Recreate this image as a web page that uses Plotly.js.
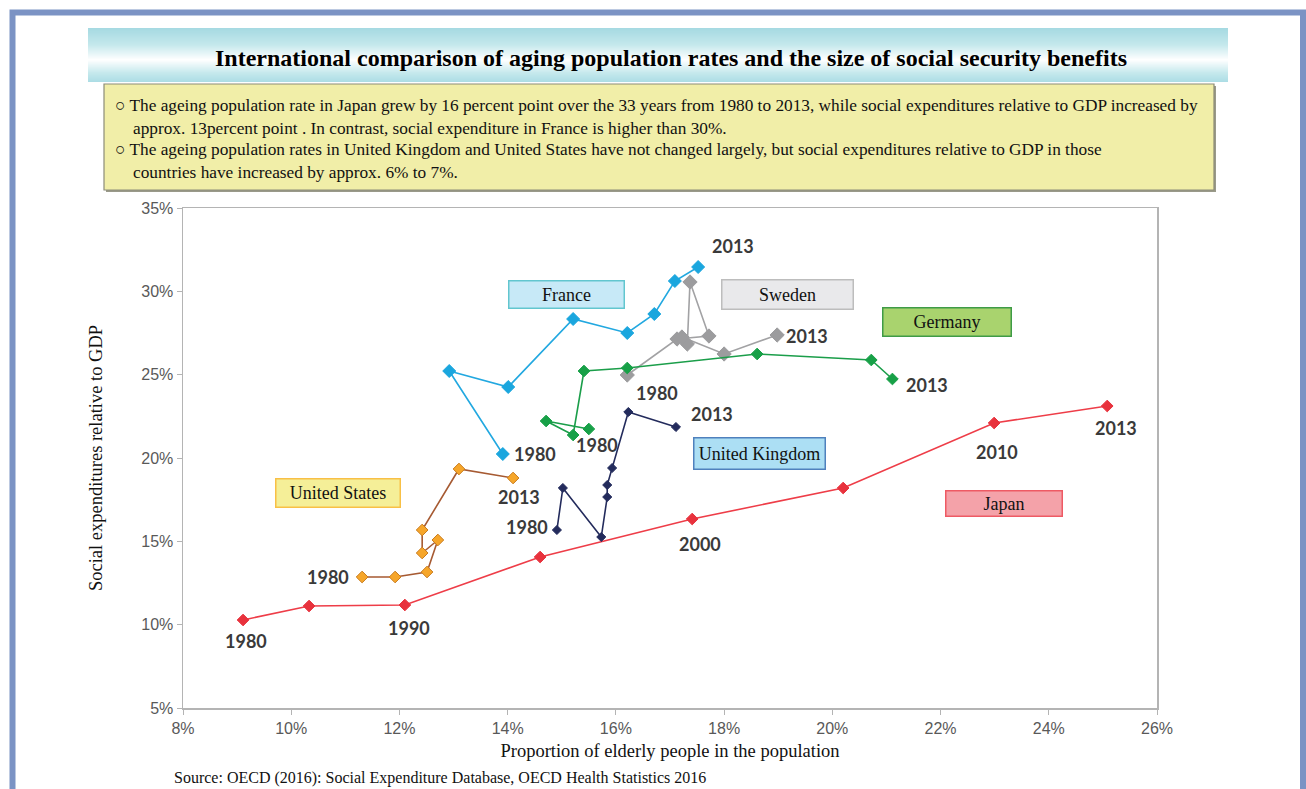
<!DOCTYPE html>
<html><head><meta charset="utf-8">
<script src="https://cdn.plot.ly/plotly-3.0.1.min.js"></script>
<style>html,body{margin:0;padding:0;background:#fff;overflow:hidden;} #chart{width:1306px;height:789px;}</style>
</head><body><div id="chart"></div>
<script>
// ---------------- DATA ----------------
const years = [1980, 1985, 1990, 1995, 2000, 2005, 2010, 2013];

const japanElderly  = [9.11, 10.33, 12.10, 14.60, 17.41, 20.20, 22.99, 25.08];
const japanSocial   = [10.28, 11.12, 11.18, 14.06, 16.34, 18.20, 22.10, 23.12];

const usElderly     = [11.31, 11.92, 12.51, 12.71, 12.42, 12.42, 13.10, 14.10];
const usSocial      = [12.86, 12.86, 13.16, 15.08, 14.30, 15.68, 19.34, 18.80];

const ukElderly     = [14.91, 15.02, 15.73, 15.84, 15.84, 15.93, 16.23, 17.11];
const ukSocial      = [15.68, 18.20, 15.26, 17.66, 18.38, 19.40, 22.76, 21.86];

const franceElderly = [13.91, 12.92, 14.01, 15.21, 16.21, 16.71, 17.09, 17.52];
const franceSocial  = [20.24, 25.22, 24.26, 28.34, 27.50, 28.64, 30.62, 31.46];

const swedenElderly = [16.21, 17.13, 17.72, 17.37, 17.32, 17.22, 18.00, 18.98];
const swedenSocial  = [24.98, 27.14, 27.32, 30.56, 26.84, 27.26, 26.24, 27.38];

const germanyElderly = [15.50, 14.71, 15.21, 15.41, 16.21, 18.61, 20.72, 21.11];
const germanySocial  = [21.74, 22.22, 21.38, 25.22, 25.40, 26.24, 25.88, 24.74];

const countryNames = ['Japan', 'United States', 'United Kingdom', 'France', 'Sweden', 'Germany'];
const japanLabeledYears = [1980, 1990, 2000, 2010, 2013];
const otherLabeledYears = [1980, 2013];

const xTickVals = [8, 10, 12, 14, 16, 18, 20, 22, 24, 26];
const yTickVals = [5, 10, 15, 20, 25, 30, 35];

const titleText = 'International comparison of aging population rates and the size of social security benefits';
const bodyLines = [
  '○ The ageing population rate in Japan grew by 16 percent point over the 33 years from 1980 to 2013, while social expenditures relative to GDP increased by',
  'approx. 13percent point . In contrast, social expenditure in France is higher than 30%.',
  '○ The ageing population rates in United Kingdom and United States have not changed largely, but social expenditures relative to GDP in those',
  'countries have increased by approx. 6% to 7%.'
];
const xAxisTitle = 'Proportion of elderly people in the population';
const yAxisTitle = 'Social expenditures relative to GDP';
const sourceText = 'Source: OECD (2016): Social Expenditure Database, OECD Health Statistics 2016';

// ---------------- STYLE ----------------
const W = 1306, H = 789;
const M = {l: 183, r: 149, t: 208, b: 81};
const PW = W - M.l - M.r, PH = H - M.t - M.b;
const px = x => (x - M.l) / PW;           // pixel -> paper x
const py = y => (H - M.b - y) / PH;       // pixel -> paper y

const serif = 'Liberation Serif, Times New Roman, serif';
const sans = 'Liberation Sans, Arial, sans-serif';

const countries = [
  {name: 'Japan', x: japanElderly, y: japanSocial, labels: japanLabeledYears,
   line: '#ee3d48', marker: '#e8323d', mline: '#e8323d', size: 9,
   offsets: {1980: [3, 21], 1990: [4, 23], 2000: [8, 25], 2010: [3, 29], 2013: [9, 22]},
   box: {x: 23.17, y: 17.30, w: 119, h: 28, fill: '#f4a2a9', border: '#ee5a64'}},
  {name: 'United States', x: usElderly, y: usSocial, labels: otherLabeledYears,
   line: '#a65a32', marker: '#f6a62a', mline: '#c97c1e', size: 9,
   offsets: {1980: [-34, 0], 2013: [6, 19]},
   box: {x: 10.87, y: 17.93, w: 127, h: 31, fill: '#f5ef98', border: '#f8c046'}},
  {name: 'United Kingdom', x: ukElderly, y: ukSocial, labels: otherLabeledYears,
   line: '#232b5c', marker: '#232b5c', mline: '#232b5c', size: 7,
   offsets: {1980: [-30, -3], 2013: [36, -13]},
   box: {x: 18.65, y: 20.30, w: 134, h: 34, fill: '#acdff4', border: '#4f81bd'}},
  {name: 'France', x: franceElderly, y: franceSocial, labels: otherLabeledYears,
   line: '#22a8e0', marker: '#1aa6de', mline: '#1aa6de', size: 10,
   offsets: {1980: [32, 0], 2013: [35, -21]},
   box: {x: 15.08, y: 29.84, w: 118, h: 30, fill: '#c7e9f7', border: '#62c6cf'}},
  {name: 'Sweden', x: swedenElderly, y: swedenSocial, labels: otherLabeledYears,
   line: '#a2a2a4', marker: '#9c9c9e', mline: '#9c9c9e', size: 11,
   offsets: {1980: [30, 18], 2013: [30, 1]},
   box: {x: 19.18, y: 29.84, w: 134, h: 32, fill: '#e9e9eb', border: '#bdbdbd'}},
  {name: 'Germany', x: germanyElderly, y: germanySocial, labels: otherLabeledYears,
   line: '#1b9e4a', marker: '#17a047', mline: '#17a047', size: 9,
   offsets: {1980: [8, 16], 2013: [35, 6]},
   box: {x: 22.11, y: 28.19, w: 131, h: 31, fill: '#a9d36e', border: '#3f9b46'}}
];

// ---------------- TRACES ----------------
const traces = countries.map(c => ({
  type: 'scatter', mode: 'lines+markers', name: c.name,
  x: c.x, y: c.y,
  line: {color: c.line, width: 1.6},
  marker: {symbol: 'diamond', size: c.size, color: c.marker, line: {color: c.mline, width: 1}},
  hoverinfo: 'skip', showlegend: false
}));

// ---------------- ANNOTATIONS ----------------
const annotations = [];
countries.forEach(c => {
  c.labels.forEach(yr => {
    const i = years.indexOf(yr);
    const off = c.offsets[yr];
    annotations.push({
      x: c.x[i], y: c.y[i], xref: 'x', yref: 'y', showarrow: false,
      xshift: off[0], yshift: -off[1],
      text: '<b>' + yr + '</b>',
      font: {family: 'Lato, Carlito, sans-serif', size: 18, color: '#3a3a3a'}
    });
  });
  const b = c.box;
  annotations.push({
    x: b.x, y: b.y, xref: 'x', yref: 'y', showarrow: false,
    text: c.name, width: b.w - 4, height: b.h - 4,
    bgcolor: b.fill, bordercolor: b.border, borderwidth: 1.5, borderpad: 0,
    font: {family: serif, size: 18, color: '#111'}, valign: 'middle'
  });
});

// title
annotations.push({x: px(671), y: py(58), xref: 'paper', yref: 'paper', xanchor: 'center', yanchor: 'middle',
  showarrow: false, text: '<b>' + titleText + '</b>', font: {family: serif, size: 24, color: '#000'}});
// body text
const bodyPos = [[113, 105], [131, 128], [113, 150], [131, 173]];
bodyLines.forEach((t, i) => {
  annotations.push({x: px(bodyPos[i][0]), y: py(bodyPos[i][1]), xref: 'paper', yref: 'paper',
    xanchor: 'left', yanchor: 'middle', showarrow: false, text: t,
    font: {family: serif, size: 17.3, color: '#111'}});
});
// source
annotations.push({x: px(172), y: py(778), xref: 'paper', yref: 'paper', xanchor: 'left', yanchor: 'middle',
  showarrow: false, text: sourceText, font: {family: serif, size: 16, color: '#111'}});

// ---------------- SHAPES ----------------
const shapes = [];
// banner gradient (cyan -> white -> cyan)
const stops = [[0, [166, 218, 226]], [0.3, [196, 232, 236]], [0.58, [255, 255, 255]], [0.82, [198, 233, 237]], [1, [170, 220, 228]]];
function grad(t) {
  for (let k = 0; k < stops.length - 1; k++) {
    const [t0, c0] = stops[k], [t1, c1] = stops[k + 1];
    if (t >= t0 && t <= t1) {
      const f = (t - t0) / (t1 - t0);
      return 'rgb(' + c0.map((v, j) => Math.round(v + (c1[j] - v) * f)).join(',') + ')';
    }
  }
  return 'rgb(170,220,228)';
}
const bTop = 28, bBot = 82;
for (let yy = bTop; yy < bBot; yy++) {
  shapes.push({type: 'rect', xref: 'paper', yref: 'paper', x0: px(88), x1: px(1228),
    y0: py(yy), y1: py(yy + 1.05), fillcolor: grad((yy - bTop) / (bBot - bTop)), line: {width: 0}, layer: 'below'});
}
// yellow box with shadow
shapes.push({type: 'rect', xref: 'paper', yref: 'paper', x0: px(106), x1: px(1216), y0: py(86), y1: py(192),
  fillcolor: '#9a9a8a', line: {width: 0}, layer: 'below'});
shapes.push({type: 'rect', xref: 'paper', yref: 'paper', x0: px(104), x1: px(1214), y0: py(84), y1: py(190),
  fillcolor: '#f1eea8', line: {color: '#8c8c78', width: 1.2}, layer: 'below'});
// outer blue frame
shapes.push({type: 'rect', xref: 'paper', yref: 'paper', x0: px(12.5), x1: px(1303), y0: py(12.5), y1: py(810),
  fillcolor: 'rgba(0,0,0,0)', line: {color: '#7b93c4', width: 6}, layer: 'above'});

// ---------------- LAYOUT ----------------
const layout = {
  width: W, height: H, margin: M,
  paper_bgcolor: '#fff', plot_bgcolor: '#fff',
  showlegend: false,
  xaxis: {
    range: [8, 26], tickvals: xTickVals, ticktext: xTickVals.map(v => v + '%'),
    showgrid: false, zeroline: false, showline: true, mirror: true,
    linecolor: '#b4b4b4', linewidth: 1.5, ticks: 'outside', ticklen: 5, tickcolor: '#b4b4b4',
    tickfont: {family: sans, size: 16, color: '#595959'},
    title: {text: xAxisTitle, font: {family: serif, size: 18.5, color: '#111'}, standoff: 8},
    fixedrange: true
  },
  yaxis: {
    range: [5, 35], tickvals: yTickVals, ticktext: yTickVals.map(v => v + '%'),
    showgrid: false, zeroline: false, showline: true, mirror: true,
    linecolor: '#b4b4b4', linewidth: 1.5, ticks: 'outside', ticklen: 5, tickcolor: '#b4b4b4',
    tickfont: {family: sans, size: 16, color: '#595959'},
    title: {text: yAxisTitle, font: {family: serif, size: 18.5, color: '#111'}, standoff: 34},
    fixedrange: true
  },
  annotations: annotations,
  shapes: shapes
};

Plotly.newPlot('chart', traces, layout, {staticPlot: true, displayModeBar: false});
</script>
</body></html>
